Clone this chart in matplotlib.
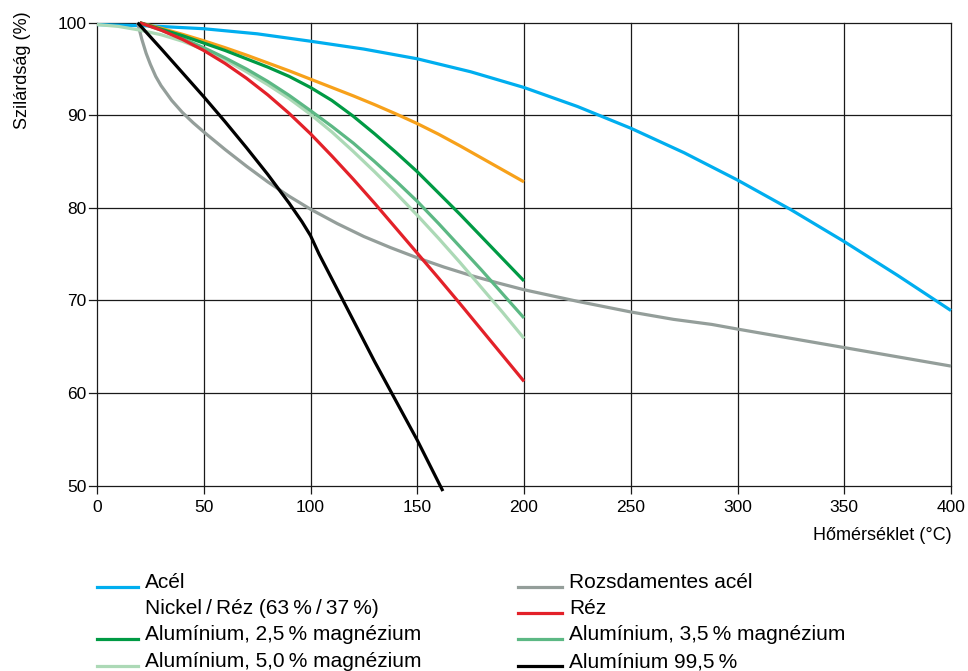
import matplotlib
matplotlib.use("Agg")
import matplotlib.pyplot as plt
from matplotlib.lines import Line2D

plt.rcParams['font.family'] = ['Liberation Sans', 'DejaVu Sans']

# ---------------- data ----------------
acel_x = [0, 25, 50, 75, 100, 125, 150, 175, 200, 225, 250, 275, 300, 325, 350, 375, 400]
acel_y = [99.8, 99.65, 99.35, 98.8, 98.0, 97.15, 96.1, 94.7, 93.0, 90.95, 88.6, 85.95, 83.0, 79.8, 76.35, 72.7, 68.9]

rozsda_x = [19, 21, 23, 25, 27.5, 30, 35, 40, 45, 50, 60, 70, 80, 90, 100, 112.5, 125, 137.5, 150, 162.5,
            175, 187.5, 200, 225, 250, 270, 288, 300, 325, 350, 375, 400]
rozsda_y = [100, 98.2, 96.7, 95.5, 94.2, 93.2, 91.6, 90.3, 89.2, 88.2, 86.3, 84.5, 82.8, 81.25, 79.85, 78.3,
            76.9, 75.7, 74.6, 73.6, 72.7, 71.9, 71.15, 69.9, 68.75, 67.95, 67.4, 66.9, 65.9, 64.9, 63.9, 62.9]

x200 = [20, 30, 40, 50, 60, 70, 80, 90, 100, 110, 120, 130, 140, 150, 160, 170, 180, 190, 200]
nickel_y = [100, 99.4, 98.75, 98.05, 97.3, 96.5, 95.65, 94.8, 93.9, 93.0, 92.1, 91.15, 90.15, 89.1, 87.95,
            86.7, 85.4, 84.1, 82.8]
rez_y = [100, 99.2, 98.2, 97.0, 95.6, 94.0, 92.2, 90.2, 88.0, 85.6, 83.1, 80.5, 77.8, 75.1, 72.4, 69.65,
         66.85, 64.05, 61.25]
al25_y = [100, 99.3, 98.6, 97.8, 97.0, 96.1, 95.2, 94.2, 93.0, 91.6, 89.9, 88.0, 86.0, 83.9, 81.6, 79.3,
          76.9, 74.5, 72.1]
al35_y = [100, 99.2, 98.3, 97.3, 96.2, 95.0, 93.65, 92.15, 90.5, 88.8, 87.0, 85.0, 82.9, 80.7, 78.3, 75.8,
          73.3, 70.7, 68.1]

al50_x = [0, 10, 20, 30, 40, 50, 60, 70, 80, 90, 100, 110, 120, 130, 140, 150, 160, 170, 180, 190, 200]
al50_y = [99.8, 99.6, 99.2, 98.7, 98.0, 97.1, 96.0, 94.7, 93.3, 91.8, 90.1, 88.2, 86.1, 83.9, 81.6, 79.2,
          76.7, 74.1, 71.4, 68.7, 65.9]

al995_x = [19, 30, 40, 50, 60, 70, 80, 90, 96, 100, 104, 115, 130, 150, 162]
al995_y = [100, 97.2, 94.6, 92.0, 89.3, 86.5, 83.6, 80.5, 78.5, 77.0, 75.0, 70.1, 63.4, 54.9, 49.4]

x_ticks = [0, 50, 100, 150, 200, 250, 300, 350, 400]
y_ticks = [50, 60, 70, 80, 90, 100]

ts = "\u2009"
labels_left = ["Acél", f"Nickel{ts}/{ts}Réz (63{ts}%{ts}/{ts}37{ts}%)",
               f"Alumínium, 2,5{ts}% magnézium", f"Alumínium, 5,0{ts}% magnézium"]
labels_right = ["Rozsdamentes acél", "Réz", f"Alumínium, 3,5{ts}% magnézium", f"Alumínium 99,5{ts}%"]

# ---------------- styling ----------------
C_ACEL = '#00aeef'
C_ROZSDA = '#949e9a'
C_NICKEL = '#f7a11a'
C_REZ = '#e32129'
C_AL25 = '#009a44'
C_AL35 = '#5cb884'
C_AL50 = '#acd9b6'
C_AL995 = '#000000'

W, H = 968, 671
fig = plt.figure(figsize=(W / 100, H / 100), dpi=100)
L, R, T, B = 89, 951, 22.7, 485.5
ax = fig.add_axes([L / W, 1 - B / H, (R - L) / W, (B - T) / H])

lw = 2.3
series = [
    (acel_x, acel_y, C_ACEL),
    (rozsda_x, rozsda_y, C_ROZSDA),
    (x200, nickel_y, C_NICKEL),
    (al50_x, al50_y, C_AL50),
    (x200, al35_y, C_AL35),
    (x200, al25_y, C_AL25),
    (x200, rez_y, C_REZ),
    (al995_x, al995_y, C_AL995),
]
for xs, ys, c in series:
    ax.plot(xs, ys, color=c, lw=lw, solid_capstyle='butt', solid_joinstyle='round', zorder=3, clip_on=False)

ax.set_xlim(-3.75, 400)
ax.set_ylim(50, 100)
ax.set_xticks(x_ticks)
ax.set_yticks(y_ticks)
ax.grid(True, color='#1a1a1a', lw=0.9)
for gl in ax.get_xgridlines() + ax.get_ygridlines():
    gl.set_clip_on(False)
for s in ax.spines.values():
    s.set_visible(False)

ax.tick_params(axis='x', length=5.8, width=0.9, color='#1a1a1a', pad=5, labelsize=12.5)
ax.tick_params(axis='y', length=0, pad=2, labelsize=12.5)

ax.set_xlabel("Hőmérséklet (°C)", fontsize=13, ha='right', va='center')
ax.xaxis.set_label_coords((952 - L) / (R - L), -(535 - B) / (B - T))
ax.set_ylabel("Szilárdság (%)", fontsize=13, ha='center', va='center')
ax.yaxis.set_label_coords((23 - L) / (R - L), (B - 70) / (B - T))

# ---------------- legend ----------------
def fx(px):
    return px / W

def fy(py):
    return 1 - py / H

rows_y = [587, 613, 639, 666]
left_colors = [C_ACEL, None, C_AL25, C_AL50]
right_colors = [C_ROZSDA, C_REZ, C_AL35, C_AL995]
for i in range(4):
    y = rows_y[i]
    if left_colors[i] is not None:
        fig.add_artist(Line2D([fx(97), fx(138)], [fy(y), fy(y)], color=left_colors[i], lw=lw,
                              transform=fig.transFigure))
    fig.text(fx(145), fy(y + 1), labels_left[i], fontsize=15, va='baseline', ha='left')
    fig.add_artist(Line2D([fx(518), fx(562)], [fy(y), fy(y)], color=right_colors[i], lw=lw,
                          transform=fig.transFigure))
    fig.text(fx(569), fy(y + 1), labels_right[i], fontsize=15, va='baseline', ha='left')

fig.savefig("out.png", dpi=100)
